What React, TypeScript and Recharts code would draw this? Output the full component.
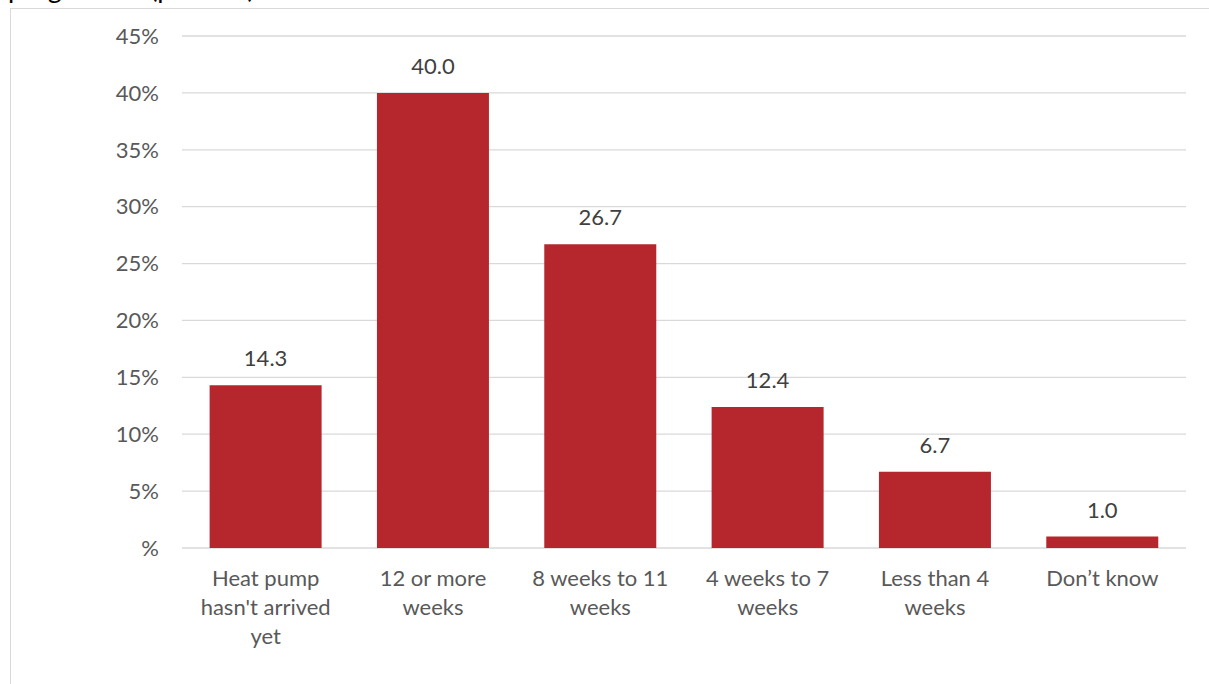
import { Bar, BarChart, CartesianGrid, LabelList, XAxis, YAxis } from "recharts";

const categories = [
  "Heat pump hasn't arrived yet",
  "12 or more weeks",
  "8 weeks to 11 weeks",
  "4 weeks to 7 weeks",
  "Less than 4 weeks",
  "Don’t know",
];
const tickLines = [
  ["Heat pump", "hasn't arrived", "yet"],
  ["12 or more", "weeks"],
  ["8 weeks to 11", "weeks"],
  ["4 weeks to 7", "weeks"],
  ["Less than 4", "weeks"],
  ["Don’t know"],
];
const percents = [14.3, 40.0, 26.7, 12.4, 6.7, 1.0];
const yTicks = [0, 5, 10, 15, 20, 25, 30, 35, 40, 45];

const data = categories.map((name, i) => ({ name, value: percents[i] }));

const FONT = "Lato, 'Open Sans', sans-serif";
const TICK_COLOR = "#595959";
const GRID = "#d9d9d9";
const BAR = "#B5272D";

function XTick(props: any) {
  const { x, y, payload } = props;
  const lines = tickLines[payload.index] ?? [payload.value];
  return (
    <text x={x} y={y} textAnchor="middle" fill={TICK_COLOR} fontSize={22} fontFamily={FONT}>
      {lines.map((l: string, i: number) => (
        <tspan key={i} x={x} y={y + 37.5 + i * 29}>
          {l}
        </tspan>
      ))}
    </text>
  );
}

function renderLabel(props: any) {
  const { x, y, width, value } = props;
  return (
    <text
      x={x + width / 2}
      y={y - 19}
      textAnchor="middle"
      fill="#404040"
      fontSize={22}
      fontFamily={FONT}
    >
      {Number(value).toFixed(1)}
    </text>
  );
}

export default function App() {
  return (
    <div
      style={{
        position: "fixed",
        left: 0,
        top: 0,
        width: 1209,
        height: 684,
        overflow: "hidden",
        background: "#fff",
      }}
    >
      {/* title cut off at the top of the crop */}
      <div
        style={{
          position: "absolute",
          left: 8,
          top: -27,
          fontFamily: FONT,
          fontSize: 27,
          lineHeight: "30px",
          color: "#000",
          whiteSpace: "nowrap",
        }}
      >
        programme (percent)
      </div>
      <div
        style={{
          position: "absolute",
          left: 10,
          top: 8,
          width: 1300,
          height: 800,
          border: `1px solid ${GRID}`,
        }}
      />
      <div style={{ position: "absolute", left: 0, top: 0 }}>
        <BarChart
          width={1209}
          height={684}
          data={data}
          margin={{ top: 36, right: 23, bottom: 0, left: 0 }}
          barCategoryGap="16.5%"
        >
          <CartesianGrid vertical={false} stroke={GRID} strokeWidth={1.3} />
          <XAxis
            dataKey="name"
            axisLine={false}
            tickLine={false}
            tickSize={0}
            tickMargin={0}
            interval={0}
            tick={<XTick />}
            height={136}
          />
          <YAxis
            width={182}
            domain={[0, 45]}
            ticks={yTicks}
            interval={0}
            axisLine={false}
            tickLine={false}
            tickSize={0}
            tickMargin={23}
            tickFormatter={(v: number) => (v === 0 ? "%" : `${v}%`)}
            tick={{ fill: TICK_COLOR, fontSize: 22, fontFamily: FONT }}
          />
          <Bar dataKey="value" fill={BAR} isAnimationActive={false}>
            <LabelList dataKey="value" content={renderLabel} />
          </Bar>
        </BarChart>
      </div>
    </div>
  );
}
